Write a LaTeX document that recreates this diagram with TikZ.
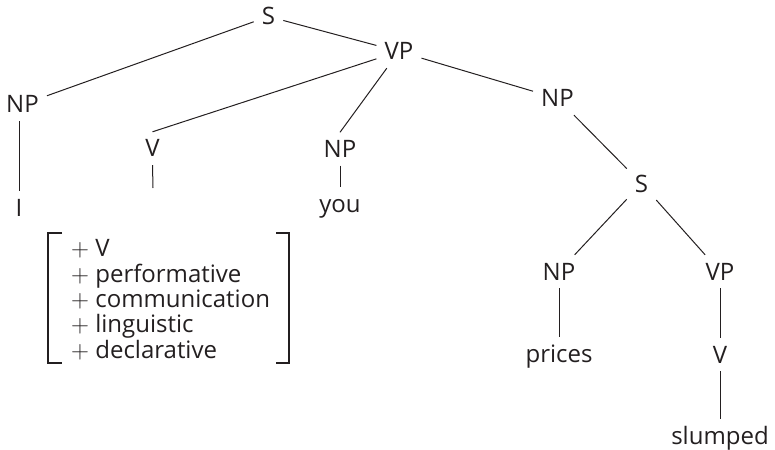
\documentclass[tikz,border=0pt]{standalone}
\usepackage{fontspec}
\setmainfont{Open Sans}
\definecolor{ink}{HTML}{231F20}
\begin{document}
\begin{tikzpicture}[x=1pt,y=-1pt,
  lab/.style={font=\fontsize{24}{25.25}\selectfont, text=ink, text height=17pt, text depth=0pt,
              inner xsep=8pt, inner ysep=8pt, anchor=base},
  feat/.style={font=\fontsize{24}{25.3}\selectfont, text=ink, inner sep=0pt, align=left, anchor=base west},
  edge/.style={draw=ink, line width=1pt},
  brack/.style={draw=ink, line width=1.2pt}]
\useasboundingbox (0,0) rectangle (775,449);
% nodes (x = centre, y = baseline)
\node[lab] (S1)  at (268.5,25) {S};
\node[lab] (VP1) at (399,60) {VP};
\node[lab] (NP1) at (22.5,113) {NP};
\node[lab] (V1)  at (152.5,157) {V};
\node[lab] (NP2) at (340,157.5) {NP};
\node[lab] (I)   at (19,216) {I};
\node[lab] (you) at (340,212) {you};
\node[lab] (NP3) at (557.5,107) {NP};
\node[lab] (S2)  at (641.5,192) {S};
\node[lab] (NP4) at (559,280) {NP};
\node[lab] (VP2) at (720,280) {VP};
\node[lab] (prices) at (559,362) {prices};
\node[lab] (V2)  at (720,363) {V};
\node[lab] (slumped) at (720,444) {slumped};
\coordinate (Vend) at (153,188);
% base anchor of this multi-line node is the baseline of its last line
\node[feat] (feat) at (71,358) {$+$ V\\$+$ performative\\$+$ communication\\$+$ linguistic\\$+$ declarative};
% edges
\draw[edge] (S1) -- (NP1);
\draw[edge] (S1) -- (VP1);
\draw[edge] (VP1) -- (V1.north);
\draw[edge] (VP1) -- (NP2.north);
\draw[edge] (VP1) -- (NP3);
\draw[edge] (I |- NP1.south) -- (I);
\draw[edge] (V1.south) -- (Vend);
\draw[edge] (NP2) -- (you);
\draw[edge] (NP3) -- (S2);
\draw[edge] (S2) -- (NP4);
\draw[edge] (S2) -- (VP2);
\draw[edge] (NP4) -- (prices);
\draw[edge] (VP2) -- (V2);
\draw[edge] (V2) -- (slumped);
% feature bracket
\draw[brack] (62,233) -- (48,233) -- (48,363) -- (62,363);
\draw[brack] (276,233) -- (289,233) -- (289,363) -- (276,363);
\end{tikzpicture}
\end{document}
